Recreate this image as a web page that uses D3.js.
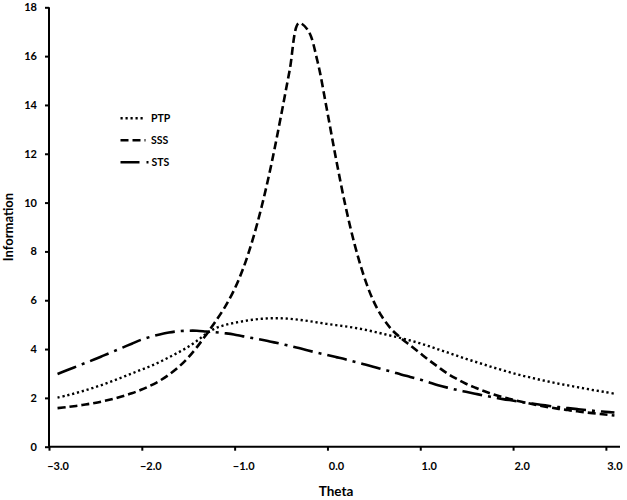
<!DOCTYPE html>
<html>
<head>
<meta charset="utf-8">
<script src="https://cdn.jsdelivr.net/npm/d3@7/dist/d3.min.js"></script>
<style>
  html, body { margin: 0; padding: 0; background: #fff; }
  svg { display: block; }
  text { font-family: Lato, "Open Sans", sans-serif; font-weight: bold; fill: #000; }
</style>
</head>
<body>
<svg id="chart" width="627" height="500"></svg>
<script>
// ---- data ----
const theta = d3.range(61).map(i => +(-3 + i * 0.1).toFixed(1));
const ptp = [2.01,2.10,2.20,2.31,2.43,2.56,2.70,2.85,3.00,3.15,3.30,3.47,3.66,3.86,4.07,4.33,4.62,4.85,4.98,5.07,5.14,5.20,5.24,5.26,5.26,5.24,5.20,5.15,5.09,5.03,4.98,4.93,4.87,4.80,4.72,4.63,4.54,4.45,4.35,4.24,4.12,3.99,3.86,3.73,3.60,3.48,3.36,3.24,3.13,3.02,2.92,2.83,2.74,2.66,2.58,2.51,2.44,2.37,2.30,2.24,2.17];
const sss = [1.58,1.62,1.67,1.73,1.79,1.87,1.96,2.07,2.19,2.33,2.50,2.70,2.95,3.25,3.62,4.07,4.58,5.12,5.70,6.40,7.30,8.45,9.85,11.50,13.40,15.40,17.35,17.05,15.80,13.85,11.80,9.90,8.30,7.00,6.00,5.30,4.80,4.45,4.15,3.85,3.55,3.27,3.00,2.78,2.58,2.42,2.27,2.14,2.03,1.93,1.84,1.76,1.68,1.61,1.55,1.50,1.45,1.40,1.36,1.32,1.28];
const sts = [2.98,3.13,3.28,3.43,3.58,3.74,3.90,4.06,4.22,4.38,4.50,4.60,4.68,4.73,4.75,4.75,4.72,4.69,4.65,4.60,4.52,4.45,4.38,4.30,4.22,4.13,4.04,3.94,3.85,3.76,3.67,3.58,3.48,3.38,3.28,3.17,3.07,2.96,2.86,2.76,2.64,2.52,2.42,2.33,2.25,2.17,2.09,2.02,1.95,1.89,1.83,1.77,1.72,1.67,1.62,1.58,1.54,1.50,1.46,1.43,1.40];
const seriesNames = ["PTP", "SSS", "STS"];
const xTickValues = [-3, -2, -1, 0, 1, 2, 3];
const yTickValues = [0, 2, 4, 6, 8, 10, 12, 14, 16, 18];

// ---- layout ----
const svg = d3.select("#chart");
const tickShift = 0.092; // tick marks sit slightly left of category labels
const x = d3.scaleLinear().domain([-3 - tickShift, 3.06]).range([49, 620]);
const y = d3.scaleLinear().domain([0, 18]).range([446.7, 7.3]);

const styles = {
  PTP: { dash: "2.2,2.8", width: 2.4 },
  SSS: { dash: "8,4", width: 2.6 },
  STS: { dash: "20,6,3,6", width: 2.6 }
};
const values = { PTP: ptp, SSS: sss, STS: sts };

// lines
const line = d3.line()
  .x((d, i) => x(theta[i]))
  .y(d => y(d))
  .curve(d3.curveCatmullRom.alpha(0.5));

seriesNames.forEach(name => {
  svg.append("path")
    .datum(values[name])
    .attr("d", line)
    .attr("fill", "none")
    .attr("stroke", "#000")
    .attr("stroke-width", styles[name].width)
    .attr("stroke-dasharray", styles[name].dash);
});

// y axis
const yAxis = svg.append("g")
  .attr("transform", `translate(${x.range()[0]},0)`)
  .call(d3.axisLeft(y).tickValues(yTickValues).tickSize(4).tickPadding(8).tickFormat(d3.format("d")));
yAxis.select(".domain").attr("stroke-width", 2).attr("d", `M0,${y(0)}V${y(18)}`);
yAxis.selectAll(".tick line").attr("stroke-width", 2);
yAxis.selectAll("text").attr("font-size", 11).attr("font-family", "Lato").attr("font-weight", "bold");

// x axis tick marks
const xTicks = svg.append("g")
  .attr("transform", `translate(0,${y(0)})`)
  .call(d3.axisBottom(x).tickValues(xTickValues.map(v => v - tickShift)).tickSize(4).tickFormat(""));
xTicks.select(".domain").attr("stroke-width", 2).attr("d", `M${x.range()[0]},0H${x.range()[1]}`);
xTicks.selectAll(".tick line").attr("stroke-width", 2);

// x axis labels
const xLabels = svg.append("g")
  .attr("transform", `translate(0,${y(0)})`)
  .call(d3.axisBottom(x).tickValues(xTickValues).tickSize(0).tickPadding(15.5).tickFormat(d3.format(".1f")));
xLabels.select(".domain").remove();
xLabels.selectAll("text").attr("font-size", 11).attr("font-family", "Lato").attr("font-weight", "bold");

// axis titles
svg.append("text")
  .attr("x", 336).attr("y", 496)
  .attr("text-anchor", "middle")
  .attr("font-size", 13.5)
  .text("Theta");
svg.append("text")
  .attr("transform", `translate(13,227) rotate(-90)`)
  .attr("text-anchor", "middle")
  .attr("font-size", 13)
  .text("Information");

// legend
const legend = svg.append("g").attr("transform", "translate(120.5,118.3)");
seriesNames.forEach((name, i) => {
  const g = legend.append("g").attr("transform", `translate(0,${i * 22})`);
  g.append("line")
    .attr("x1", 0).attr("x2", name === "STS" ? 28 : 25)
    .attr("y1", 0).attr("y2", 0)
    .attr("stroke", "#000")
    .attr("stroke-width", styles[name].width)
    .attr("stroke-dasharray", name === "STS" ? "19,7,2.5,6" : styles[name].dash);
  g.append("text")
    .attr("x", name === "STS" ? 31 : 30.5).attr("y", 3.8)
    .attr("font-size", 10.5)
    .text(name);
});
</script>
</body>
</html>
